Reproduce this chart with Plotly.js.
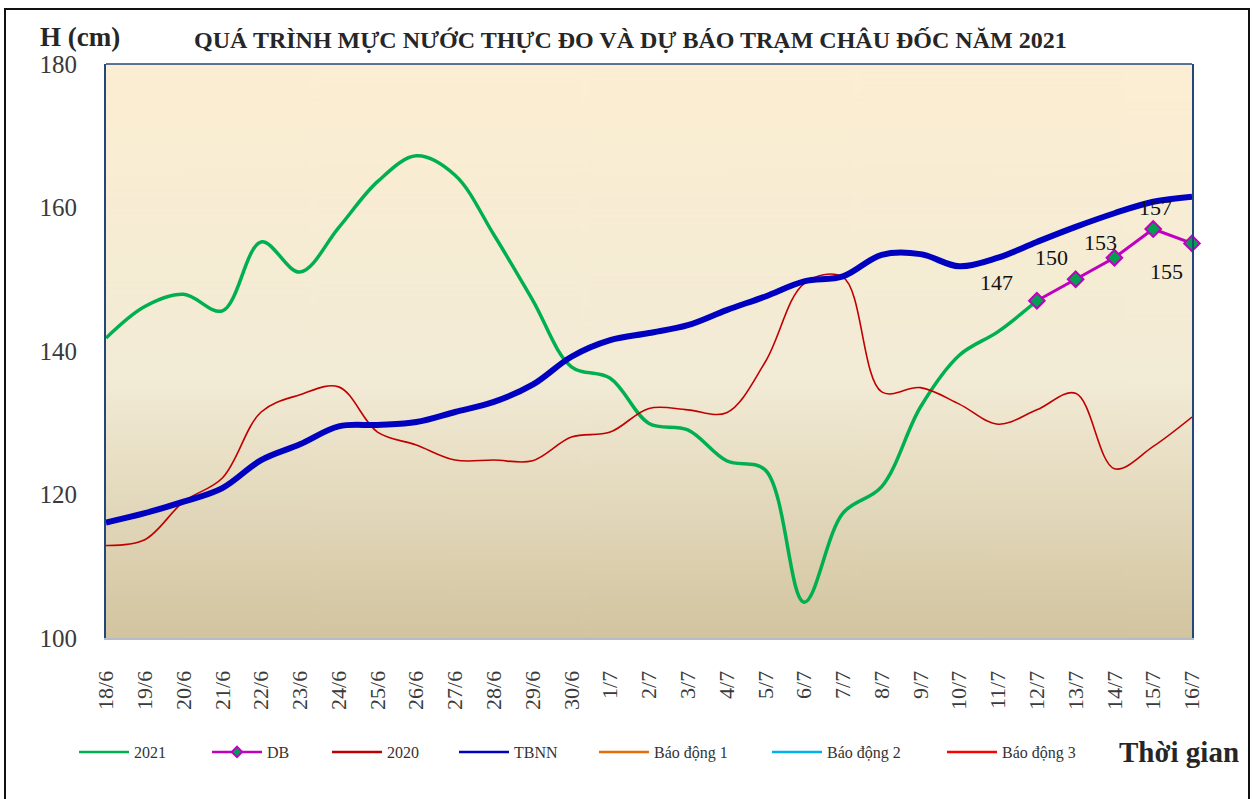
<!DOCTYPE html>
<html><head><meta charset="utf-8">
<script src="https://cdn.plot.ly/plotly-3.0.1.min.js"></script>
<style>
html,body{margin:0;padding:0;background:#fff;}
#wrap{position:relative;width:1253px;height:799px;overflow:hidden;}
#chart{width:1253px;height:799px;}
#frame{position:absolute;left:4px;top:8px;width:1242px;height:830px;border:2px solid #111;pointer-events:none;}
</style>
</head><body><div id="wrap"><div id="chart"></div><div id="frame"></div></div>
<script>
// ---- data ----
const categories = ['18/6','19/6','20/6','21/6','22/6','23/6','24/6','25/6','26/6','27/6','28/6','29/6','30/6',
  '1/7','2/7','3/7','4/7','5/7','6/7','7/7','8/7','9/7','10/7','11/7','12/7','13/7','14/7','15/7','16/7'];
const h2021 = [141.8,146.2,147.9,145.6,155.2,151.0,157.2,163.6,167.2,164.5,156.2,147.1,137.8,
  136.2,129.9,129.0,124.7,123.4,105.0,117.4,121.1,132.2,139.4,142.7,147.0,null,null,null,null];
const hDB = [null,null,null,null,null,null,null,null,null,null,null,null,null,
  null,null,null,null,null,null,null,null,null,null,null,147,150,153,157,155];
const h2020 = [112.9,113.7,119.0,122.3,131.5,133.9,135.0,128.7,126.9,124.8,124.8,124.7,128.0,
  128.7,132.0,131.8,131.4,138.5,149.4,150.3,134.3,134.9,132.6,129.8,131.8,134.1,123.6,126.7,130.8];
const hTBNN = [116.1,117.4,119.0,120.9,124.8,127.0,129.5,129.7,130.1,131.5,132.9,135.3,139.2,
  141.5,142.5,143.6,145.7,147.6,149.7,150.4,153.4,153.5,151.8,153.0,155.2,157.3,159.2,160.8,161.5];
const alarmLevels = [300, 350, 400]; // Báo động 1, 2, 3 (cm) - outside visible range
const yTicks = [100,120,140,160,180];
const seriesNames = ['2021','DB','2020','TBNN','Báo động 1','Báo động 2','Báo động 3'];

// ---- style ----
const serif = 'Liberation Serif, Times New Roman, serif';
const colors = ['#00B050','#C000C0','#C00000','#0000C0','#E46C0A','#00B0F0','#FF0000'];
const labelShift = [[-40,18],[-24,22],[-14,15],[2,22],[-26,-28]]; // px offsets for DB labels

function gradientURL(){
  const c = document.createElement('canvas'); c.width = 8; c.height = 400;
  const g = c.getContext('2d');
  const gr = g.createLinearGradient(0,0,0,400);
  gr.addColorStop(0,'#FCEED2'); gr.addColorStop(0.55,'#F2EBD6'); gr.addColorStop(1,'#D2C49F');
  g.fillStyle = gr; g.fillRect(0,0,8,400);
  return c.toDataURL('image/png');
}

const legendNames = ['legend','legend2','legend3','legend4','legend5','legend6','legend7'];
const legendPx = [74, 207, 327, 454, 594, 767, 942];

const traces = [
  {x:categories, y:h2021, name:seriesNames[0], mode:'lines', showlegend:false, line:{color:colors[0], width:3.5, shape:'spline', smoothing:1}},
  {x:categories, y:hDB, name:seriesNames[1], mode:'lines+markers', showlegend:false, line:{color:colors[1], width:3}, cliponaxis:false,
    marker:{symbol:'diamond', size:12, color:'#00A050', line:{color:colors[1], width:2}}},
  {x:categories, y:h2020, name:seriesNames[2], mode:'lines', showlegend:false, line:{color:colors[2], width:1.6, shape:'spline', smoothing:1}},
  {x:categories, y:hTBNN, name:seriesNames[3], mode:'lines', showlegend:false, line:{color:colors[3], width:6, shape:'spline', smoothing:1}},
  {x:categories, y:categories.map(()=>alarmLevels[0]), name:seriesNames[4], mode:'lines', showlegend:false, line:{color:colors[4], width:2}},
  {x:categories, y:categories.map(()=>alarmLevels[1]), name:seriesNames[5], mode:'lines', showlegend:false, line:{color:colors[5], width:2}},
  {x:categories, y:categories.map(()=>alarmLevels[2]), name:seriesNames[6], mode:'lines', showlegend:false, line:{color:colors[6], width:2}}
];
// legend-only key entries (thin key lines as in the original legend); no visible points
seriesNames.forEach((nm,i)=>{
  const t = {x:[categories[0]], y:[null], name:nm, mode: i===1 ? 'lines+markers' : 'lines', showlegend:true, legend:legendNames[i],
    line:{color:colors[i], width:2.5}, hoverinfo:'skip'};
  if(i===1) t.marker = {symbol:'diamond', size:8, color:'#00A050', line:{color:colors[1], width:2}};
  traces.push(t);
});

const L = 106, R = 1192, T = 64, B = 638;
const layout = {
  width:1253, height:799,
  margin:{l:L, r:1253-R, t:T, b:799-B, pad:0},
  paper_bgcolor:'#ffffff', plot_bgcolor:'#F3EAD3',
  showlegend:true,
  font:{family:serif, color:'#333'},
  xaxis:{type:'category', range:[0, categories.length-1], tickangle:-90, ticks:'', showgrid:false, zeroline:false,
    showline:true, linecolor:'#B4BCC8', linewidth:2, ticklabelstandoff:22,
    tickfont:{family:serif, size:22, color:'#3a3a3a'}},
  yaxis:{range:[100,180], tickvals:yTicks, ticktext:yTicks.map(String), ticks:'', showgrid:false, zeroline:false,
    showline:true, mirror:true, linecolor:'#24467A', linewidth:2, ticklabelstandoff:22,
    tickfont:{family:serif, size:25, color:'#3a3a3a'}},
  shapes:[{type:'line', xref:'paper', yref:'paper', x0:0, x1:1, y0:1, y1:1, line:{color:'#24467A', width:1.5}}],
  images:[{source:gradientURL(), xref:'paper', yref:'paper', x:0, y:1, sizex:1, sizey:1, sizing:'stretch',
    xanchor:'left', yanchor:'top', layer:'below'}],
  annotations:[
    {text:'<b>QUÁ TRÌNH MỰC NƯỚC THỰC ĐO VÀ DỰ BÁO TRẠM CHÂU ĐỐC NĂM 2021</b>', xref:'paper', yref:'paper',
      x:(630-L)/(R-L), y:(T-40)/(B-T)+1, xanchor:'center', yanchor:'middle', showarrow:false,
      font:{family:serif, size:24, color:'#262626'}},
    {text:'<b>H (cm)</b>', xref:'paper', yref:'paper', x:(38-L)/(R-L), y:(T-37)/(B-T)+1, xanchor:'left', yanchor:'middle',
      showarrow:false, font:{family:serif, size:27, color:'#262626'}},
    {text:'<b>Thời gian</b>', xref:'paper', yref:'paper', x:(1241-L)/(R-L), y:(B-752)/(B-T), xanchor:'right', yanchor:'middle',
      showarrow:false, font:{family:serif, size:29, color:'#262626'}}
  ]
};
// DB data labels
let k = 0;
hDB.forEach((v,i)=>{
  if(v===null) return;
  layout.annotations.push({x:categories[i], y:v, text:String(v), showarrow:false,
    xshift:labelShift[k][0], yshift:labelShift[k][1], font:{family:serif, size:22, color:'#111'}});
  k++;
});
// legends, one per item, placed along the bottom
legendNames.forEach((nm,i)=>{
  layout[nm] = {orientation:'h', xref:'paper', yref:'paper', x:(legendPx[i]-L)/(R-L), y:(B-752)/(B-T),
    xanchor:'left', yanchor:'middle', bgcolor:'rgba(0,0,0,0)', itemwidth:50,
    font:{family:serif, size:16, color:'#333'}};
});

Plotly.newPlot('chart', traces, layout, {displayModeBar:false, staticPlot:true});
</script></body></html>
